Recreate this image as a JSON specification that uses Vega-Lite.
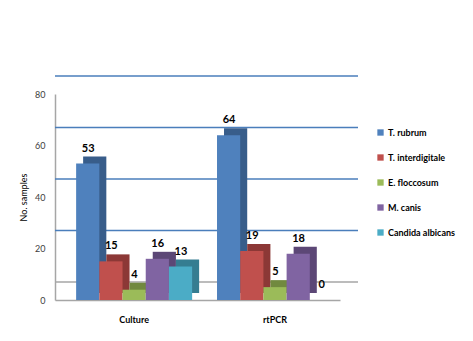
{
  "$schema": "https://vega.github.io/schema/vega-lite/v6.json",
  "width": 285,
  "height": 206,
  "autosize": {"type": "none"},
  "padding": {"left": 55, "top": 94, "right": 133, "bottom": 41},
  "background": "white",
  "config": {"view": {"stroke": null}, "font": "Lato"},
  "datasets": {
    "bars": [
      {"method": "Culture", "species": "T. rubrum", "n": 53},
      {"method": "Culture", "species": "T. interdigitale", "n": 15},
      {"method": "Culture", "species": "E. floccosum", "n": 4},
      {"method": "Culture", "species": "M. canis", "n": 16},
      {"method": "Culture", "species": "Candida albicans", "n": 13},
      {"method": "rtPCR", "species": "T. rubrum", "n": 64},
      {"method": "rtPCR", "species": "T. interdigitale", "n": 19},
      {"method": "rtPCR", "species": "E. floccosum", "n": 5},
      {"method": "rtPCR", "species": "M. canis", "n": 18},
      {"method": "rtPCR", "species": "Candida albicans", "n": 0}
    ],
    "grid": [{"v": 20}, {"v": 40}, {"v": 60}, {"v": 80}],
    "floor": [{"v": 0}]
  },
  "layer": [
    {
      "data": {"name": "grid"},
      "mark": {"type": "rule", "color": "#4a7ebb", "strokeWidth": 1.5, "xOffset": 18, "yOffset": -18},
      "encoding": {
        "y": {"field": "v", "type": "quantitative", "scale": {"domain": [0, 80]}}
      }
    },
    {
      "data": {"name": "floor"},
      "mark": {"type": "rule", "color": "#a6a6a6", "strokeWidth": 1.5, "xOffset": 18, "yOffset": -18},
      "encoding": {
        "y": {"field": "v", "type": "quantitative"}
      }
    },
    {
      "data": {"name": "bars"},
      "mark": {"type": "bar", "yOffset": -7},
      "encoding": {
        "x": {"field": "method", "type": "nominal", "scale": {"paddingInner": 0.177, "paddingOuter": 0.1, "align": 0.75},
          "axis": {"title": null, "labelAngle": 0, "labelFontSize": 9, "labelFontWeight": "bold", "labelColor": "#000000", "labelPadding": 15, "ticks": false, "domainColor": "#a6a6a6", "domainWidth": 1.5}},
        "xOffset": {"field": "species", "type": "nominal", "sort": ["T. rubrum", "T. interdigitale", "E. floccosum", "M. canis", "Candida albicans"], "scale": {"range": [7, 123], "paddingInner": 0, "paddingOuter": 0}},
        "y": {"field": "n", "type": "quantitative", "scale": {"domain": [0, 80]}},
        "color": {"field": "species", "type": "nominal", "legend": null,
          "scale": {"domain": ["T. rubrum", "T. interdigitale", "E. floccosum", "M. canis", "Candida albicans"], "range": ["#385d8a", "#8c3836", "#71893f", "#5c4776", "#357d91"]}}
      }
    },
    {
      "data": {"name": "bars"},
      "mark": {"type": "bar"},
      "encoding": {
        "x": {"field": "method", "type": "nominal"},
        "xOffset": {"field": "species", "type": "nominal", "sort": ["T. rubrum", "T. interdigitale", "E. floccosum", "M. canis", "Candida albicans"], "scale": {"range": [0, 116], "paddingInner": 0, "paddingOuter": 0}},
        "y": {"field": "n", "type": "quantitative",
          "axis": {"title": "No. samples", "titleFontSize": 9, "titleFontWeight": "normal", "titleColor": "#000000", "titlePadding": 6, "values": [0, 20, 40, 60, 80], "labelFontSize": 9, "labelColor": "#404040", "labelPadding": 10, "ticks": false, "grid": false, "domainColor": "#a6a6a6", "domainWidth": 1.5}},
        "color": {"field": "species", "type": "nominal",
          "scale": {"domain": ["T. rubrum", "T. interdigitale", "E. floccosum", "M. canis", "Candida albicans"], "range": ["#4f81bd", "#c0504d", "#9bbb59", "#8064a2", "#4bacc6"]},
          "legend": {"title": null, "orient": "none", "legendX": 321, "legendY": 34, "symbolType": "square", "symbolSize": 40, "symbolStrokeWidth": 0, "labelFontSize": 9, "labelFontWeight": "bold", "labelColor": "#000000", "rowPadding": 15, "labelOffset": 3}}
      }
    },
    {
      "data": {"name": "bars"},
      "mark": {"type": "text", "baseline": "bottom", "dy": -10, "fontSize": 11, "fontWeight": "bold", "color": "#000000"},
      "encoding": {
        "x": {"field": "method", "type": "nominal"},
        "xOffset": {"field": "species", "type": "nominal", "sort": ["T. rubrum", "T. interdigitale", "E. floccosum", "M. canis", "Candida albicans"], "scale": {"range": [12, 104.8], "padding": 0}},
        "y": {"field": "n", "type": "quantitative"},
        "text": {"field": "n", "type": "quantitative"}
      }
    }
  ],
  "resolve": {"scale": {"color": "independent", "xOffset": "independent"}}
}
